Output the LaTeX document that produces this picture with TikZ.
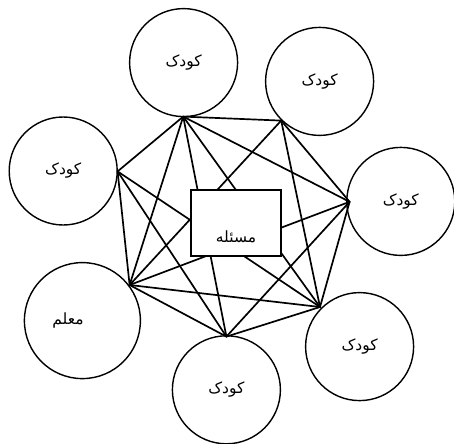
\documentclass[tikz,border=0pt]{standalone}
\usepackage{fontspec}
\usepackage{tikz}
\usepackage{tkz-euclide}
\TeXXeTstate=1
\newfontfamily\farsifont[Script=Arabic]{DejaVu Sans}
\newcommand{\fa}[1]{{\farsifont\beginR #1\endR}}

\begin{document}
\begin{tikzpicture}[
    kid/.style={circle, draw, line width=1pt, inner sep=0pt, minimum size=2.7cm,
      font=\fontsize{11}{13}\selectfont},
    task/.style={rectangle, draw, fill=white, line width=1.5pt, inner sep=0pt,
      minimum width=2.25cm, minimum height=1.65cm, font=\fontsize{11}{13}\selectfont}
  ]
      \useasboundingbox (0,0) rectangle (11.35,11.075);

      % 1. the circles round the problem
      \node[kid] (K1) at (4.59,9.51) {\fa{کودک}};
      \node[kid] (K2) at (7.99,9.04) {\fa{کودک}};
      \node[kid] (K3) at (10.02,6.04) {\fa{کودک}};
      \node[kid] (K4) at (8.99,2.41) {\fa{کودک}};
      \node[kid] (K5) at (5.66,1.33) {\fa{کودک}};
      \node[kid, minimum size=2.9cm,
        label={[xshift=-0.36cm, font=\fontsize{11}{13}\selectfont]center:\fa{معلم}}] (K6) at (2.06,3.06) {};
      \node[kid] (K7) at (1.58,6.80) {\fa{کودک}};

      % 2. the points where the lines meet each circle
      \tkzDefPoint(4.58,8.16){A}
      \tkzDefPoint(7.03,8.06){B}
      \tkzDefPoint(8.74,6.03){C}
      \tkzDefPoint(8.00,3.40){D}
      \tkzDefPoint(5.66,2.66){E}
      \tkzDefPoint(3.24,3.95){F}
      \tkzDefPoint(2.94,6.79){G}

      % 3. the lines between them
      \tkzDrawSegments[black, line width=1.2pt](A,B A,C A,D A,E A,F A,G B,C B,D B,F)
      \tkzDrawSegments[black, line width=1.2pt](C,D C,E C,F D,E D,F D,G E,F E,G F,G)

      % 4. the problem in the middle, over the lines
      \node[task, label={[yshift=-0.35cm, font=\fontsize{11}{13}\selectfont]center:\fa{مسئله}}] (M) at (5.90,5.50) {};
    \end{tikzpicture}
\end{document}
